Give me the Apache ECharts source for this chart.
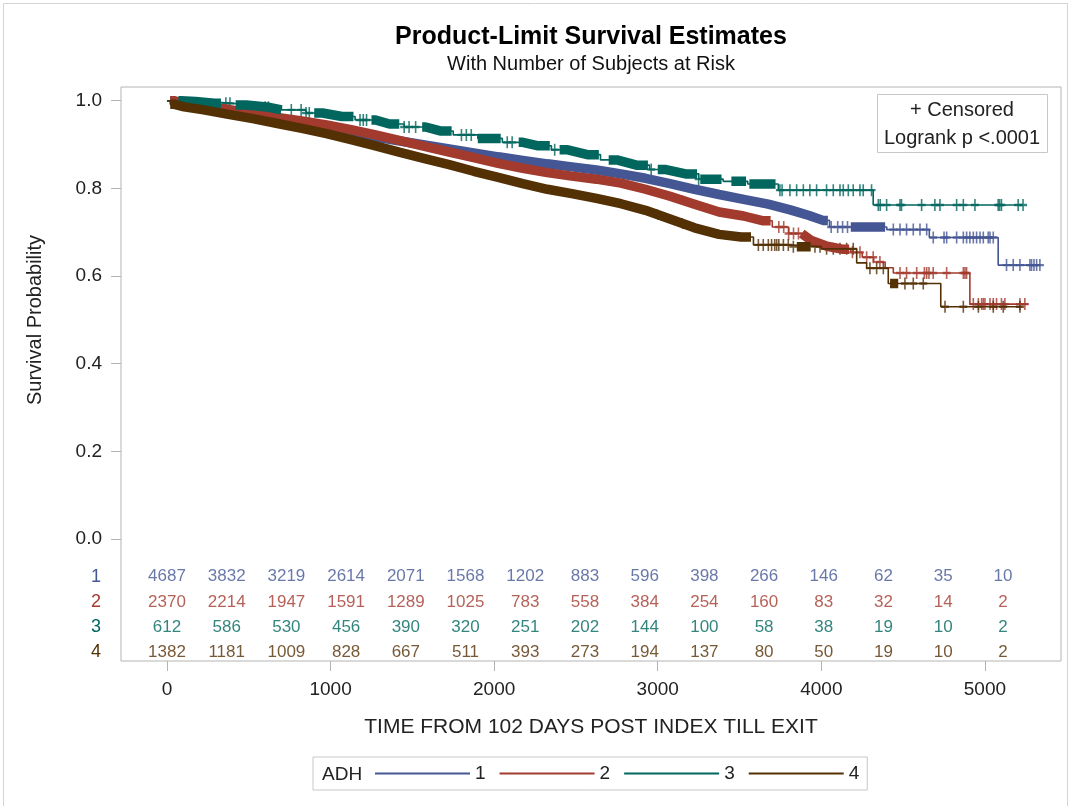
<!DOCTYPE html>
<html>
<head>
<meta charset="utf-8">
<title>Product-Limit Survival Estimates</title>
<script src="https://cdn.jsdelivr.net/npm/echarts@6/dist/echarts.min.js"></script>
<style>
  html, body { margin: 0; padding: 0; background: #fff; }
  #chart { width: 1071px; height: 806px; }
</style>
</head>
<body>
<div id="chart"></div>
<script>
var FONT = "'Liberation Sans', Arial, sans-serif";

var groupNames = ['1', '2', '3', '4'];
var groupColors = ['#445694', '#A23A2E', '#01665E', '#543005'];

// product-limit estimate, [time, survival] at each drop
var surv1 = [[0, 1.000], [60, 0.992], [150, 0.985], [300, 0.976], [450, 0.966], [600, 0.956], [750, 0.946],
  [900, 0.936], [1050, 0.926], [1200, 0.917], [1350, 0.908], [1500, 0.899], [1650, 0.890], [1800, 0.881],
  [1950, 0.872], [2100, 0.864], [2250, 0.856], [2400, 0.849], [2550, 0.842], [2700, 0.833], [2850, 0.823],
  [3000, 0.811], [3150, 0.798], [3300, 0.786], [3450, 0.775], [3600, 0.764], [3750, 0.751], [3870, 0.738],
  [3980, 0.727], [4050, 0.712], [4400, 0.706], [4660, 0.688], [5081, 0.625], [5336, 0.625]];
var surv2 = [[0, 1.000], [60, 0.994], [150, 0.989], [300, 0.980], [450, 0.971], [600, 0.962], [750, 0.954],
  [900, 0.945], [1050, 0.934], [1200, 0.922], [1350, 0.909], [1500, 0.896], [1650, 0.883], [1800, 0.870],
  [1950, 0.857], [2100, 0.846], [2250, 0.836], [2400, 0.828], [2550, 0.821], [2700, 0.812], [2850, 0.798],
  [3000, 0.782], [3150, 0.764], [3300, 0.746], [3450, 0.737], [3600, 0.726], [3700, 0.712], [3800, 0.697],
  [3900, 0.682], [3970, 0.668], [4100, 0.661], [4180, 0.654], [4250, 0.643], [4320, 0.632], [4390, 0.619],
  [4440, 0.607], [4908, 0.536], [5263, 0.536]];
var surv3 = [[0, 1.000], [100, 0.998], [250, 0.994], [400, 0.990], [550, 0.985], [700, 0.979], [850, 0.972],
  [1000, 0.964], [1150, 0.956], [1300, 0.947], [1450, 0.940], [1600, 0.931], [1750, 0.922], [1900, 0.914],
  [2050, 0.905], [2200, 0.897], [2350, 0.888], [2500, 0.877], [2650, 0.865], [2800, 0.853], [2950, 0.843],
  [3100, 0.833], [3250, 0.821], [3400, 0.816], [3550, 0.810], [3737, 0.796], [4317, 0.762], [5233, 0.762]];
var surv4 = [[0, 1.000], [20, 0.992], [60, 0.986], [150, 0.979], [300, 0.969], [450, 0.959], [600, 0.948],
  [750, 0.937], [900, 0.925], [1050, 0.911], [1200, 0.897], [1350, 0.882], [1500, 0.868], [1650, 0.854],
  [1800, 0.839], [1950, 0.825], [2100, 0.811], [2250, 0.798], [2400, 0.788], [2550, 0.777], [2700, 0.765],
  [2850, 0.750], [3000, 0.730], [3150, 0.710], [3300, 0.695], [3450, 0.689], [3585, 0.671], [3800, 0.667],
  [4000, 0.662], [4216, 0.630], [4277, 0.618], [4409, 0.583], [4730, 0.530], [5224, 0.530]];

// stretches where the censor marks are packed into a solid band [from, to]
var dense1 = [[20, 4040], [4180, 4390]];
var dense2 = [[20, 3690], [3880, 4170]];
var dense3 = [[70, 330], [420, 700], [900, 1140], [1250, 1420], [1560, 1740], [1900, 2040], [2150, 2340],
  [2400, 2640], [2700, 2940], [3000, 3240], [3260, 3390], [3450, 3540], [3560, 3720]];
var dense4 = [[20, 3570], [3850, 3935], [4420, 4470]];

// single censored times outside the bands
var cens1 = [4060, 4100, 4130, 4160, 4440, 4481, 4521, 4562, 4603, 4644, 4684, 4750, 4766, 4827, 4868,
  4888, 4908, 4929, 4949, 4970, 4990, 5020, 5031, 5051, 5132, 5173, 5214, 5275, 5285, 5300, 5316, 5336];
var cens2 = [3740, 3770, 3800, 3830, 3860, 4190, 4236, 4277, 4317, 4358, 4481, 4521, 4583, 4630, 4644,
  4658, 4684, 4766, 4868, 4878, 4888, 4929, 4960, 4980, 4990, 5000, 5031, 5051, 5071, 5101, 5122, 5214, 5244];
var cens3 = [360, 385, 600, 620, 760, 820, 850, 870, 1180, 1200, 1220, 1450, 1480, 1520, 1800, 1830, 1860,
  2080, 2110, 2370, 2960, 3250,
  3747, 3760, 3808, 3849, 3890, 3930, 3971, 4032, 4073, 4114, 4134, 4165, 4195, 4236, 4256, 4307,
  4348, 4360, 4399, 4481, 4490, 4613, 4694, 4725, 4827, 4868, 4939, 5081, 5090, 5101, 5203, 5233];
var cens4 = [3615, 3645, 3676, 3696, 3715, 3727, 3740, 3768, 3798, 3829, 3961, 3992, 4032, 4073, 4114,
  4155, 4195, 4297, 4338, 4379, 4511, 4562, 4623, 4756, 4868, 4960, 5051, 5112, 5214];

// number of subjects at risk
var riskTimes = [0, 365, 730, 1095, 1460, 1825, 2190, 2555, 2920, 3285, 3650, 4015, 4380, 4745, 5110];
var risk1 = [4687, 3832, 3219, 2614, 2071, 1568, 1202, 883, 596, 398, 266, 146, 62, 35, 10];
var risk2 = [2370, 2214, 1947, 1591, 1289, 1025, 783, 558, 384, 254, 160, 83, 32, 14, 2];
var risk3 = [612, 586, 530, 456, 390, 320, 251, 202, 144, 100, 58, 38, 19, 10, 2];
var risk4 = [1382, 1181, 1009, 828, 667, 511, 393, 273, 194, 137, 80, 50, 19, 10, 2];

var xTicks = [0, 1000, 2000, 3000, 4000, 5000];
var yTicks = [0, 0.2, 0.4, 0.6, 0.8, 1.0];

var survs = [surv1, surv2, surv3, surv4];
var denses = [dense1, dense2, dense3, dense4];
var censs = [cens1, cens2, cens3, cens4];
var risks = [risk1, risk2, risk3, risk4];

// value of the step function at time t
function survAt(steps, t) {
  var s = steps[0][1];
  for (var i = 0; i < steps.length; i++) {
    if (steps[i][0] <= t) s = steps[i][1];
    else break;
  }
  return s;
}

// ribbon over the curve between a and b: passes through the middle of each flat run
function ribbon(steps, a, b) {
  var cuts = [a];
  steps.forEach(function (p) {
    if (p[0] > a && p[0] < b) cuts.push(p[0]);
  });
  cuts.push(b);
  var out = [[a, survAt(steps, a)]];
  for (var k = 0; k < cuts.length - 1; k++) {
    out.push([(cuts[k] + cuts[k + 1]) / 2, survAt(steps, cuts[k])]);
  }
  out.push([b, survAt(steps, b)]);
  return out;
}

var crossPath = 'path://M4,0H6V4H10V6H6V10H4V6H0V4H4Z';
var XMIN = -281, XMAX = 5465;

var series = [];
groupNames.forEach(function (g, i) {
  series.push({
    name: g, type: 'line', step: 'end', data: survs[i],
    showSymbol: false, symbol: 'none',
    lineStyle: { color: groupColors[i], width: 1.6 },
    itemStyle: { color: groupColors[i] }
  });
  // packed censor marks, drawn as a thick ribbon along the curve
  denses[i].forEach(function (r, k) {
    series.push({
      name: g + ' band ' + k, type: 'line', data: ribbon(survs[i], r[0], r[1]),
      showSymbol: false, symbol: 'none',
      lineStyle: { color: groupColors[i], width: 9.5, cap: 'butt' }
    });
  });
  series.push({
    name: g + ' censored', type: 'scatter',
    data: censs[i].map(function (t) { return [t, survAt(survs[i], t)]; }),
    symbol: crossPath, symbolSize: [8, 12],
    itemStyle: { color: groupColors[i] }
  });
  series.push({
    name: g + ' at risk', type: 'scatter', xAxisIndex: 1, yAxisIndex: 1,
    data: riskTimes.map(function (t, k) { return [t, g, risks[i][k]]; }),
    symbolSize: 1, itemStyle: { color: 'transparent' },
    label: {
      show: true, position: 'inside', color: groupColors[i],
      fontFamily: FONT, fontSize: 17,
      formatter: function (p) { return p.value[2]; }
    }
  });
});

var chart = echarts.init(document.getElementById('chart'));
var option = {
  backgroundColor: '#fff',
  animation: false,
  title: {
    text: 'Product-Limit Survival Estimates',
    subtext: 'With Number of Subjects at Risk',
    left: 591, top: 25, textAlign: 'center', padding: 0, itemGap: 4,
    textStyle: { fontFamily: FONT, fontSize: 25, fontWeight: 'bold', color: '#000' },
    subtextStyle: { fontFamily: FONT, fontSize: 20, color: '#111' }
  },
  legend: {
    data: groupNames, left: 313, top: 757,
    padding: [7, 8, 7, 62], itemGap: 14, itemWidth: 95, itemHeight: 2,
    icon: 'rect', selectedMode: false,
    borderColor: '#c8c8c8', borderWidth: 1,
    textStyle: { fontFamily: FONT, fontSize: 19, color: '#222' }
  },
  grid: [
    { left: 121, top: 87, width: 940, height: 574, show: true, borderColor: '#b4b4b4', borderWidth: 1 },
    { left: 121, top: 564, width: 940, height: 101 }
  ],
  xAxis: [
    {
      type: 'value', gridIndex: 0, min: XMIN, max: XMAX,
      name: 'TIME FROM 102 DAYS POST INDEX TILL EXIT', nameLocation: 'middle', nameGap: 56,
      nameTextStyle: { fontFamily: FONT, fontSize: 21, color: '#222' },
      axisLine: { show: false, onZero: false },
      axisTick: { show: true, length: 10, customValues: xTicks, lineStyle: { color: '#b4b4b4' } },
      axisLabel: {
        customValues: xTicks, margin: 19, fontFamily: FONT, fontSize: 19, color: '#222',
        formatter: function (v) { return String(v); }
      },
      splitLine: { show: false }
    },
    { type: 'value', gridIndex: 1, min: XMIN, max: XMAX, show: false }
  ],
  yAxis: [
    {
      type: 'value', gridIndex: 0, min: -0.2783, max: 1.0313,
      axisLine: { show: false, onZero: false },
      axisTick: { show: true, length: 10, customValues: yTicks, lineStyle: { color: '#b4b4b4' } },
      axisLabel: {
        customValues: yTicks, margin: 19, fontFamily: FONT, fontSize: 19, color: '#222',
        formatter: function (v) { return v.toFixed(1); }
      },
      splitLine: { show: false }
    },
    {
      type: 'category', gridIndex: 1, inverse: true, data: groupNames,
      axisLine: { show: false }, axisTick: { show: false },
      axisLabel: {
        margin: 20, fontFamily: FONT, fontSize: 18,
        color: function (v) { return groupColors[groupNames.indexOf(v)]; }
      },
      splitLine: { show: false }
    }
  ],
  graphic: [
    {
      type: 'rect', z: 0, silent: true,
      shape: { x: 3.5, y: 3.5, width: 1064, height: 820 },
      style: { fill: 'none', stroke: '#d4d4d4', lineWidth: 1 }
    },
    {
      type: 'text', x: 35, y: 320, rotation: Math.PI / 2,
      style: { text: 'Survival Probability', font: '20px ' + FONT, fill: '#222', align: 'center', verticalAlign: 'middle' }
    },
    {
      type: 'group', z: 100,
      children: [
        { type: 'rect', shape: { x: 877.5, y: 94.5, width: 170, height: 58 }, style: { fill: '#fff', stroke: '#c8c8c8', lineWidth: 1 } },
        { type: 'text', x: 962, y: 110, style: { text: '+ Censored', font: '20px ' + FONT, fill: '#222', align: 'center', verticalAlign: 'middle' } },
        { type: 'text', x: 962, y: 138, style: { text: 'Logrank p <.0001', font: '20px ' + FONT, fill: '#222', align: 'center', verticalAlign: 'middle' } }
      ]
    },
    {
      type: 'text', x: 322, y: 775, z: 100,
      style: { text: 'ADH', font: '19px ' + FONT, fill: '#222', align: 'left', verticalAlign: 'middle' }
    }
  ],
  series: series
};
chart.setOption(option);
</script>
</body>
</html>
